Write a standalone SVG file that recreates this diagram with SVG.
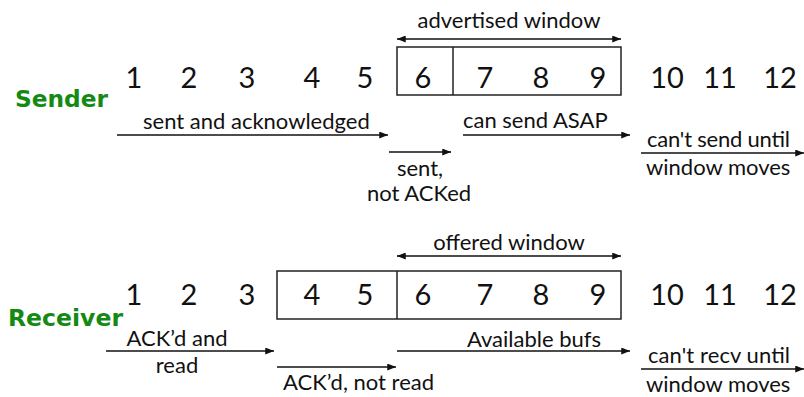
<svg xmlns="http://www.w3.org/2000/svg" width="804" height="397" viewBox="0 0 804 397">
  <style>
    text { font-family: Lato, "Open Sans", "DejaVu Sans", sans-serif; fill: #111; }
    .num { font-size: 29px; text-anchor: middle; }
    .lbl { font-size: 22px; }
    .mid { text-anchor: middle; }
    .side { font-family: "DejaVu Sans", Lato, sans-serif; font-weight: bold; font-size: 23px; fill: #148a14; }
    .box { fill: none; stroke: #222; stroke-width: 1.5; }
    .arr { stroke: #111; stroke-width: 1.6; fill: none; marker-end: url(#head); }
    .dbl { marker-start: url(#tail); }
  </style>
  <defs>
    <marker id="head" viewBox="0 0 10 8" refX="10" refY="4" markerWidth="9" markerHeight="7" markerUnits="userSpaceOnUse" orient="auto">
      <path d="M0,0 L10,4 L0,8 Z" fill="#111"/>
    </marker>
    <marker id="tail" viewBox="0 0 10 8" refX="0" refY="4" markerWidth="9" markerHeight="7" markerUnits="userSpaceOnUse" orient="auto">
      <path d="M10,0 L0,4 L10,8 Z" fill="#111"/>
    </marker>
  </defs>

  <!-- sender side -->
  <g id="sender-label"><text class="side" x="15" y="107" textLength="93" lengthAdjust="spacingAndGlyphs">Sender</text></g>
  <g id="sender-window">
    <rect class="box" x="397" y="47" width="224" height="48"/>
    <line class="box" x1="453" y1="47" x2="453" y2="95"/>
    <text class="lbl mid" x="509" y="28">advertised window</text>
  </g>
  <g id="sender-seq">
    <text class="num" x="134" y="88">1</text>
    <text class="num" x="189" y="88">2</text>
    <text class="num" x="247" y="88">3</text>
    <text class="num" x="312" y="88">4</text>
    <text class="num" x="365" y="88">5</text>
    <text class="num" x="423" y="88">6</text>
    <text class="num" x="485" y="88">7</text>
    <text class="num" x="541" y="88">8</text>
    <text class="num" x="598" y="88">9</text>
    <text class="num" x="667" y="88">10</text>
    <text class="num" x="720" y="88">11</text>
    <text class="num" x="780" y="88">12</text>
  </g>
  <g id="sender-notes">
    <text class="lbl" x="143" y="129">sent and acknowledged</text>
    <text class="lbl mid" x="420" y="176">sent,</text>
    <text class="lbl mid" x="419" y="201">not ACKed</text>
    <text class="lbl" x="463" y="128">can send ASAP</text>
    <text class="lbl" x="647" y="147" textLength="143">can't send until</text>
    <text class="lbl" x="646" y="175">window moves</text>
  </g>

  <!-- receiver side -->
  <g id="receiver-label"><text class="side" x="8" y="326" textLength="115" lengthAdjust="spacingAndGlyphs">Receiver</text></g>
  <g id="receiver-window">
    <rect class="box" x="277" y="271" width="344" height="48"/>
    <line class="box" x1="397" y1="271" x2="397" y2="319"/>
    <text class="lbl mid" x="509" y="250">offered window</text>
  </g>
  <g id="receiver-seq">
    <text class="num" x="134" y="305">1</text>
    <text class="num" x="189" y="305">2</text>
    <text class="num" x="247" y="305">3</text>
    <text class="num" x="312" y="305">4</text>
    <text class="num" x="365" y="305">5</text>
    <text class="num" x="423" y="305">6</text>
    <text class="num" x="485" y="305">7</text>
    <text class="num" x="541" y="305">8</text>
    <text class="num" x="598" y="305">9</text>
    <text class="num" x="667" y="305">10</text>
    <text class="num" x="720" y="305">11</text>
    <text class="num" x="780" y="305">12</text>
  </g>
  <g id="receiver-notes">
    <text class="lbl mid" x="177" y="346">ACK’d and</text>
    <text class="lbl mid" x="177" y="373">read</text>
    <text class="lbl" x="283" y="390">ACK’d, not read</text>
    <text class="lbl" x="467" y="347">Available bufs</text>
    <text class="lbl" x="648" y="363" textLength="142">can't recv until</text>
    <text class="lbl" x="646" y="392">window moves</text>
  </g>

  <!-- connectors -->
  <g id="connectors">
    <line class="arr dbl" x1="397" y1="39" x2="621" y2="39"/>
    <line class="arr" x1="117" y1="135" x2="388" y2="135"/>
    <line class="arr" x1="389" y1="152" x2="451" y2="152"/>
    <line class="arr" x1="463" y1="135" x2="630" y2="135"/>
    <line class="arr" x1="641" y1="153" x2="804" y2="153"/>
    <line class="arr dbl" x1="397" y1="256" x2="621" y2="256"/>
    <line class="arr" x1="106" y1="351" x2="274" y2="351"/>
    <line class="arr" x1="277" y1="367" x2="396" y2="367"/>
    <line class="arr" x1="397" y1="351" x2="630" y2="351"/>
    <line class="arr" x1="641" y1="369" x2="804" y2="369"/>
  </g>
</svg>
